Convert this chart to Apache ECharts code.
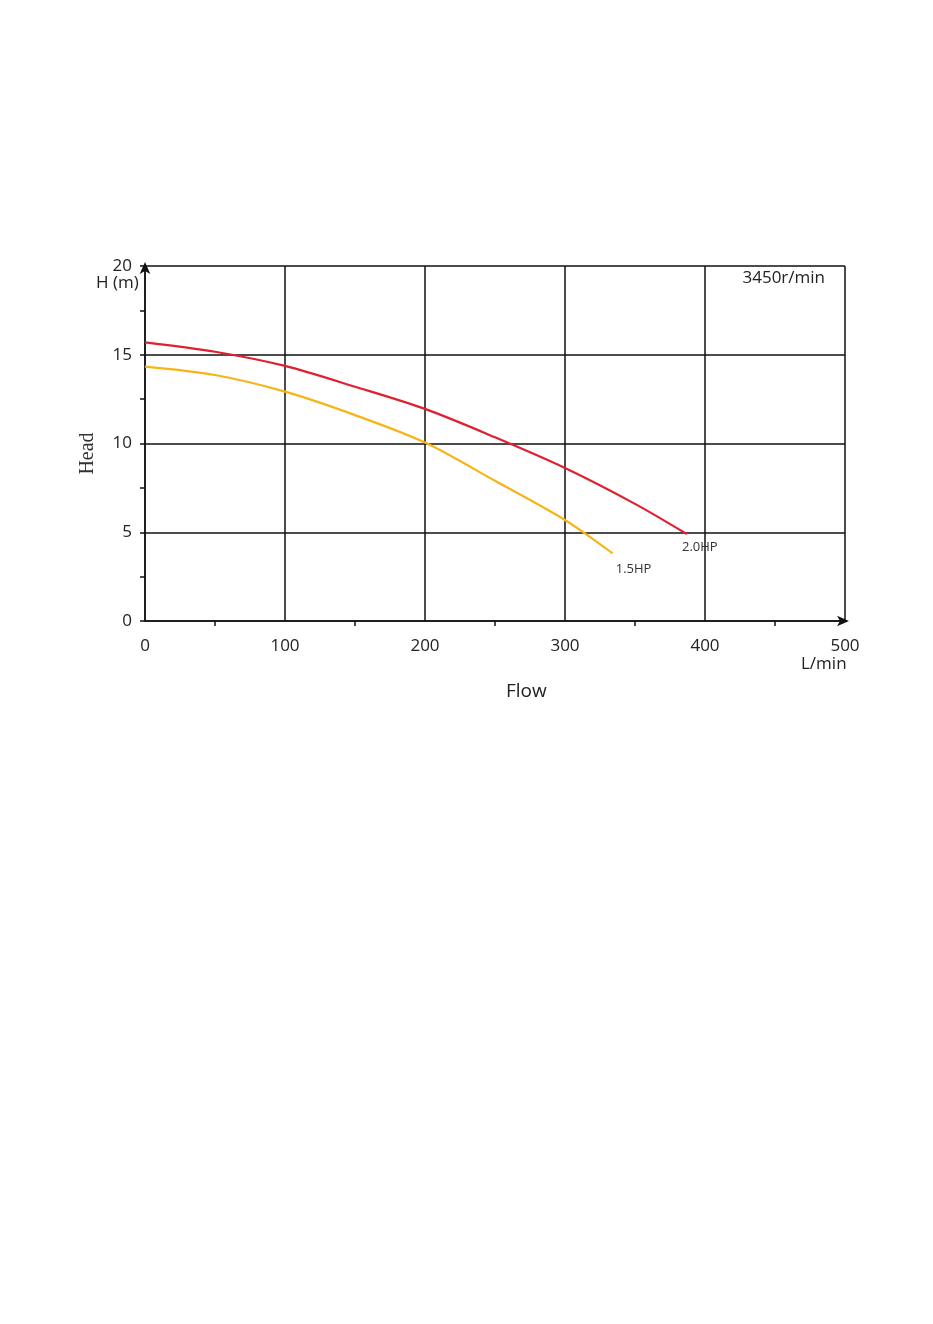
<!DOCTYPE html>
<html><head><meta charset="utf-8">
<script src="https://cdn.jsdelivr.net/npm/echarts@6/dist/echarts.min.js"></script>
<style>html,body{margin:0;padding:0;background:#fff}#c{width:933px;height:1324px}</style>
</head><body><div id="c"></div>
<script>
const flowRed = [0, 50, 100, 150, 200, 250, 300, 350, 387];
const headRed = [15.7, 15.17, 14.37, 13.2, 11.95, 10.35, 8.62, 6.6, 4.9];
const flowYellow = [0, 50, 100, 150, 200, 250, 300, 334];
const headYellow = [14.33, 13.86, 12.92, 11.6, 10.05, 7.9, 5.69, 3.81];
const seriesNames = ['2.0HP', '1.5HP'];
const speedLabel = '3450r/min';

const F = '"Open Sans", "DejaVu Sans", sans-serif';
const toPairs = (xs, ys) => xs.map((x, i) => [x, ys[i]]);
const redData = toPairs(flowRed, headRed);
const yelData = toPairs(flowYellow, headYellow);
const txt = (size) => ({fontFamily: F, fontSize: size, fontWeight: 'normal', color: '#222'});

const chart = echarts.init(document.getElementById('c'), null, {renderer: 'canvas'});
chart.setOption({
  backgroundColor: '#fff',
  animation: false,
  grid: {left: 145, right: 88, top: 266, bottom: 703, containLabel: false},
  title: [
    {text: 'H (m)', left: 91, top: 270, textStyle: txt(17)},
    {text: speedLabel, right: 103, top: 265, textStyle: txt(17)},
    {text: 'L/min', left: 796, top: 651, textStyle: txt(17)},
    {text: 'Flow', left: 501, top: 677, textStyle: txt(19)}
  ],
  xAxis: {
    type: 'value', min: 0, max: 500, interval: 100,
    axisLine: {show: true, symbol: ['none', 'arrow'], symbolSize: [8, 12], symbolOffset: [0, 4], lineStyle: {color: '#111', width: 1.5}},
    axisTick: {show: false},
    minorTick: {show: true, splitNumber: 2, length: 5, lineStyle: {color: '#111', width: 1.5}},
    splitLine: {show: true, lineStyle: {color: '#111', width: 1.5}},
    axisLabel: {fontFamily: F, fontSize: 17, color: '#222', margin: 17}
  },
  yAxis: {
    type: 'value', min: 0, max: 20, interval: 5,
    name: 'Head', nameLocation: 'middle', nameGap: 47, nameRotate: 90,
    nameTextStyle: {fontFamily: '"Liberation Serif", "DejaVu Serif", serif', fontSize: 20, color: '#333', padding: [0, 0, 0, -20]},
    axisLine: {show: true, symbol: ['none', 'arrow'], symbolSize: [8, 12], symbolOffset: [0, 4], lineStyle: {color: '#111', width: 1.5}},
    axisTick: {show: true, inside: false, length: 5, lineStyle: {color: '#111', width: 1.5}},
    minorTick: {show: true, splitNumber: 2, length: 5, lineStyle: {color: '#111', width: 1.5}},
    splitLine: {show: true, lineStyle: {color: '#111', width: 1.5}},
    axisLabel: {fontFamily: F, fontSize: 17, color: '#222', margin: 13}
  },
  series: [
    {
      name: seriesNames[0], type: 'line', data: redData, smooth: 0.3, showSymbol: false,
      lineStyle: {color: '#e0202f', width: 2.2},
      markPoint: {
        symbol: 'circle', symbolSize: 0,
        data: [{coord: redData[redData.length - 1]}],
        label: {show: true, formatter: seriesNames[0], position: 'bottom', offset: [13, 2], fontFamily: F, fontSize: 13, color: '#333'}
      }
    },
    {
      name: seriesNames[1], type: 'line', data: yelData, smooth: 0.3, showSymbol: false,
      lineStyle: {color: '#f5b518', width: 2.2},
      markPoint: {
        symbol: 'circle', symbolSize: 0,
        data: [{coord: yelData[yelData.length - 1]}],
        label: {show: true, formatter: seriesNames[1], position: 'bottom', offset: [21, 4], fontFamily: F, fontSize: 13, color: '#333'}
      }
    }
  ]
});
</script>
</body></html>
